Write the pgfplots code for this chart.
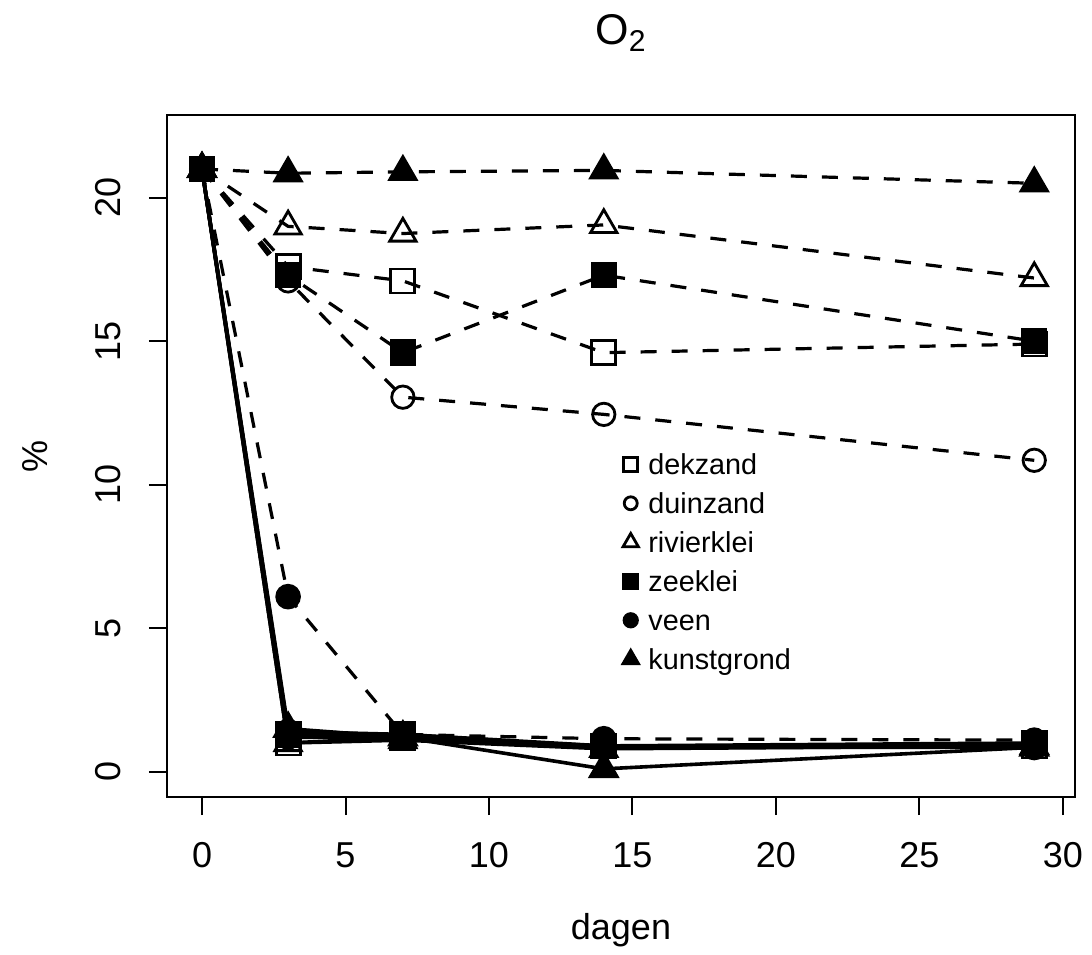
\documentclass[border=0pt]{standalone}
\usepackage{fontspec}
\setmainfont{Liberation Sans}
\usepackage{pgfplots}
\usepackage{pgfplotstable}
\pgfplotsset{compat=1.18}
\pgfplotstableread{
day dekA duinA rivA zeeA veenA kunstA dekB duinB rivB zeeB veenB kunstB
0  21.0 21.0  21.0  21.0 21.0 21.0  21.0 21.0 21.0 21.0 21.0 21.0
3  17.6 17.1  19.0  17.3 6.1  20.85 1.0  1.2  1.0  1.3  1.4  1.5
7  17.1 13.05 18.75 14.6 1.3  20.9  1.2  1.2  1.1  1.3  1.3  1.2
14 14.6 12.45 19.05 17.3 1.15 20.95 0.9  0.85 0.8  0.9  0.85 0.1
29 14.9 10.85 17.2  15.0 1.1  20.5  0.9  0.9  0.9  1.0  0.85 0.85
}\datatable
\pgfplotsset{
  msq/.style={mark=square, mark size=6pt, mark options={solid, fill=white, line width=1.4pt}},
  mci/.style={mark=o, mark size=5.6pt, mark options={solid, fill=white, line width=1.4pt}},
  mtr/.style={mark=triangle, mark size=7.6pt, mark options={solid, fill=white, line width=1.4pt}},
  msqf/.style={mark=square*, mark size=5.8pt, mark options={solid, fill=black}},
  mcif/.style={mark=*, mark size=5.6pt, mark options={solid, fill=black}},
  mtrf/.style={mark=triangle*, mark size=7.4pt, mark options={solid, fill=black}},
  dsh/.style={black, line width=1.6pt, dash pattern=on 8pt off 7.5pt},
  sld/.style={black, line width=1.8pt, solid},
}
\begin{document}
\begin{tikzpicture}
\useasboundingbox (0,0) rectangle (546pt,477pt);
\begin{axis}[
  scale only axis,
  width=454pt, height=341pt,
  at={(83.5pt,78.5pt)}, anchor=south west,
  xmin=-1.22, xmax=30.42,
  ymin=-0.88, ymax=22.88,
  xtick={0,5,...,30}, ytick={0,5,...,20},
  tick pos=left,
  tick align=outside,
  major tick length=9pt,
  axis line style={line width=1pt},
  every tick/.style={black, line width=1pt},
  /pgf/number format/assume math mode=true,
  tick label style={font=\fontsize{18}{18}\selectfont, inner sep=0pt},
  xticklabel style={anchor=north},
  yticklabel style={rotate=90, anchor=south},
  xticklabel shift=13.5pt,
  yticklabel shift=14pt,
  xlabel={dagen},
  ylabel={\%},
  label style={font=\fontsize{18}{18}\selectfont},
  xlabel style={at={(axis description cs:0.5,0)}, anchor=center, yshift=-66.5pt},
  ylabel style={at={(axis description cs:0,0.5)}, anchor=center, yshift=66pt},
  title={O\textsubscript{2}},
  title style={at={(axis description cs:0.5,1)}, anchor=center, yshift=35pt, font=\fontsize{21.5}{21.5}\selectfont},
  legend style={at={(axis cs:14.45,11.37)}, anchor=north west, draw=none, fill=none,
    font=\fontsize{14.4}{14.4}\selectfont,
    nodes={inner sep=0pt, text height=12.5pt, text depth=7pt},
    /tikz/every odd column/.append style={column sep=5pt}},
  legend cell align=left,
  legend image code/.code={\draw[#1, every mark/.append style={scale=0.58}] plot coordinates {(0pt,2.5pt)};},
]
% solid series (second treatment)
\addplot[sld, msq, forget plot] table[x=day, y=dekB] {\datatable};
\addplot[sld, mci, forget plot] table[x=day, y=duinB] {\datatable};
\addplot[sld, mtr, forget plot] table[x=day, y=rivB] {\datatable};
\addplot[sld, msqf, forget plot] table[x=day, y=zeeB] {\datatable};
\addplot[sld, mcif, forget plot] table[x=day, y=veenB] {\datatable};
\addplot[sld, mtrf, forget plot] table[x=day, y=kunstB] {\datatable};
% dashed series
\addplot[dsh, msq] table[x=day, y=dekA] {\datatable};
\addlegendentry{dekzand}
\addplot[dsh, mci] table[x=day, y=duinA] {\datatable};
\addlegendentry{duinzand}
\addplot[dsh, mtr] table[x=day, y=rivA] {\datatable};
\addlegendentry{rivierklei}
\addplot[dsh, msqf] table[x=day, y=zeeA] {\datatable};
\addlegendentry{zeeklei}
\addplot[dsh, mcif] table[x=day, y=veenA] {\datatable};
\addlegendentry{veen}
\addplot[dsh, mtrf] table[x=day, y=kunstA] {\datatable};
\addlegendentry{kunstgrond}
\end{axis}
\end{tikzpicture}
\end{document}
